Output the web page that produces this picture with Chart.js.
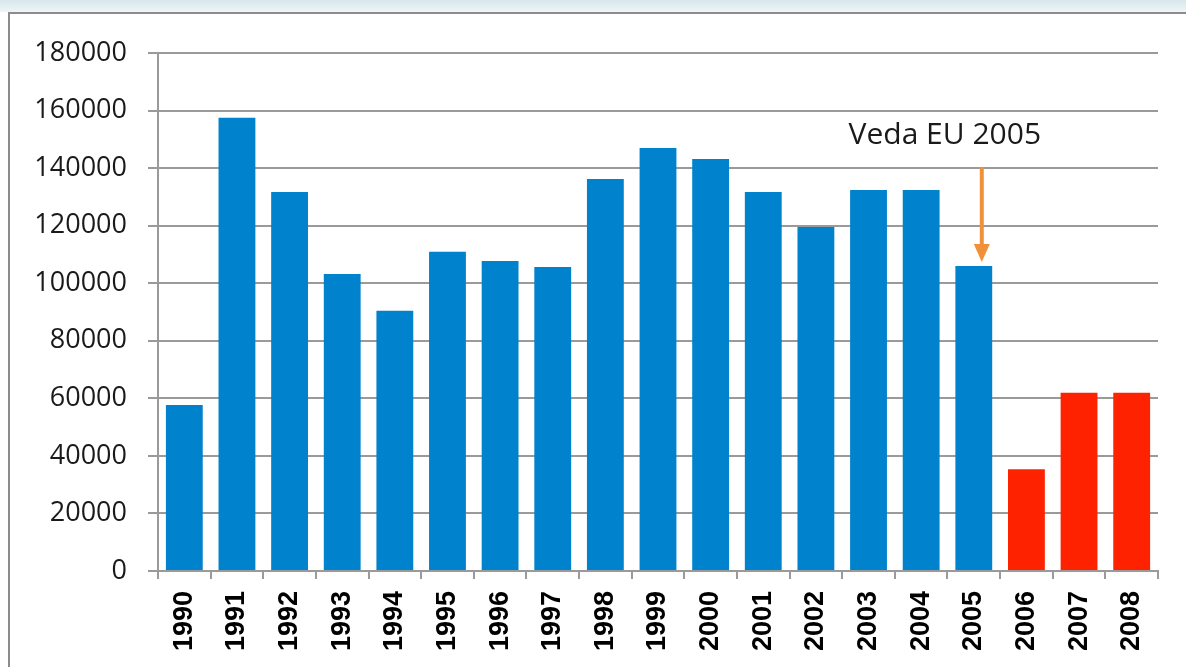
<!DOCTYPE html>
<html>
<head>
<meta charset="utf-8">
<script src="https://cdn.jsdelivr.net/npm/chart.js@4"></script>
<style>
  body { margin: 0; background: #fff; overflow: hidden; }
  #strip { position: absolute; left: 0; top: 0; width: 1186px; height: 12px; background: linear-gradient(#d7e7ec, #eef5f7); }
  #frame { position: absolute; left: 8px; top: 12px; width: 1200px; height: 700px; border: 2px solid #8c8c8c; }
  #wrap { position: absolute; left: 0; top: 0; width: 1186px; height: 667px; }
</style>
</head>
<body>
<div id="strip"></div>
<div id="frame"></div>
<div id="wrap"><canvas id="vedaChart"></canvas></div>
<script>
const years = ['1990', '1991', '1992', '1993', '1994', '1995', '1996', '1997', '1998', '1999',
  '2000', '2001', '2002', '2003', '2004', '2005', '2006', '2007', '2008'];
const counts = [57700, 157500, 131700, 103200, 90400, 110900, 107700, 105600, 136200, 147000,
  143200, 131700, 119500, 132400, 132400, 106000, 35400, 61900, 61900];
const yTicks = [0, 20000, 40000, 60000, 80000, 100000, 120000, 140000, 160000, 180000];
const noteText = 'Veda EU 2005';
const noteYear = '2005';

const blue = '#0082cc';
const red = '#ff2200';
// bars from 2006 on are red
const barColors = years.map(y => (Number(y) > 2005 ? red : blue));

// arrow + label pointing at the 2005 bar
const notePlugin = {
  id: 'notePlugin',
  afterDatasetsDraw(chart) {
    const { ctx, scales: { x, y } } = chart;
    const i = years.indexOf(noteYear);
    const ax = x.getPixelForValue(i) + 8;
    const yStart = y.getPixelForValue(140000) - 1;
    const yEnd = y.getPixelForValue(counts[i]) - 4;

    ctx.save();
    ctx.strokeStyle = '#f0913a';
    ctx.fillStyle = '#f0913a';
    ctx.lineWidth = 4;
    ctx.beginPath();
    ctx.moveTo(ax, yStart);
    ctx.lineTo(ax, yEnd - 14);
    ctx.stroke();
    ctx.beginPath();
    ctx.moveTo(ax - 8, yEnd - 18);
    ctx.lineTo(ax + 8, yEnd - 18);
    ctx.lineTo(ax, yEnd);
    ctx.closePath();
    ctx.fill();

    ctx.fillStyle = '#1a1a1a';
    ctx.font = '30px "Open Sans", sans-serif';
    ctx.textAlign = 'center';
    ctx.textBaseline = 'alphabetic';
    ctx.fillText(noteText, ax - 37, y.getPixelForValue(150000) + 5);
    ctx.restore();
  }
};

const chartConfig = {
  type: 'bar',
  data: {
    labels: years,
    datasets: [
      {
        label: 'Veda',
        data: counts,
        backgroundColor: barColors,
        barPercentage: 0.7,
        categoryPercentage: 1.0,
      },
    ],
  },
  options: {
    responsive: false,
    animation: false,
    layout: { padding: { top: 53, right: 28, left: 0, bottom: 0 } },
    plugins: {
      legend: { display: false },
      tooltip: { enabled: false },
    },
    scales: {
      x: {
        afterFit: scale => { scale.height = 96; },
        grid: { drawOnChartArea: false, drawTicks: true, tickLength: 8, color: '#9a9a9a', lineWidth: 2 },
        border: { color: '#9a9a9a', width: 2 },
        ticks: {
          minRotation: 90,
          maxRotation: 90,
          padding: 12,
          color: '#000',
          font: { family: '"Liberation Sans", Arial, sans-serif', size: 27, weight: 'bold' },
        },
      },
      y: {
        min: 0,
        max: 180000,
        afterFit: scale => { scale.width = 158; },
        afterBuildTicks: scale => { scale.ticks = yTicks.map(v => ({ value: v })); },
        grid: { color: '#9a9a9a', lineWidth: 2, tickLength: 10 },
        border: { color: '#9a9a9a', width: 2 },
        ticks: {
          padding: 21,
          color: '#1a1a1a',
          callback: value => String(value),
          font: { family: '"Open Sans", sans-serif', size: 27 },
        },
      },
    },
  },
  plugins: [notePlugin],
};

const canvas = document.getElementById('vedaChart');
canvas.width = 1186;
canvas.height = 667;
new Chart(canvas.getContext('2d'), chartConfig);
</script>
</body>
</html>
